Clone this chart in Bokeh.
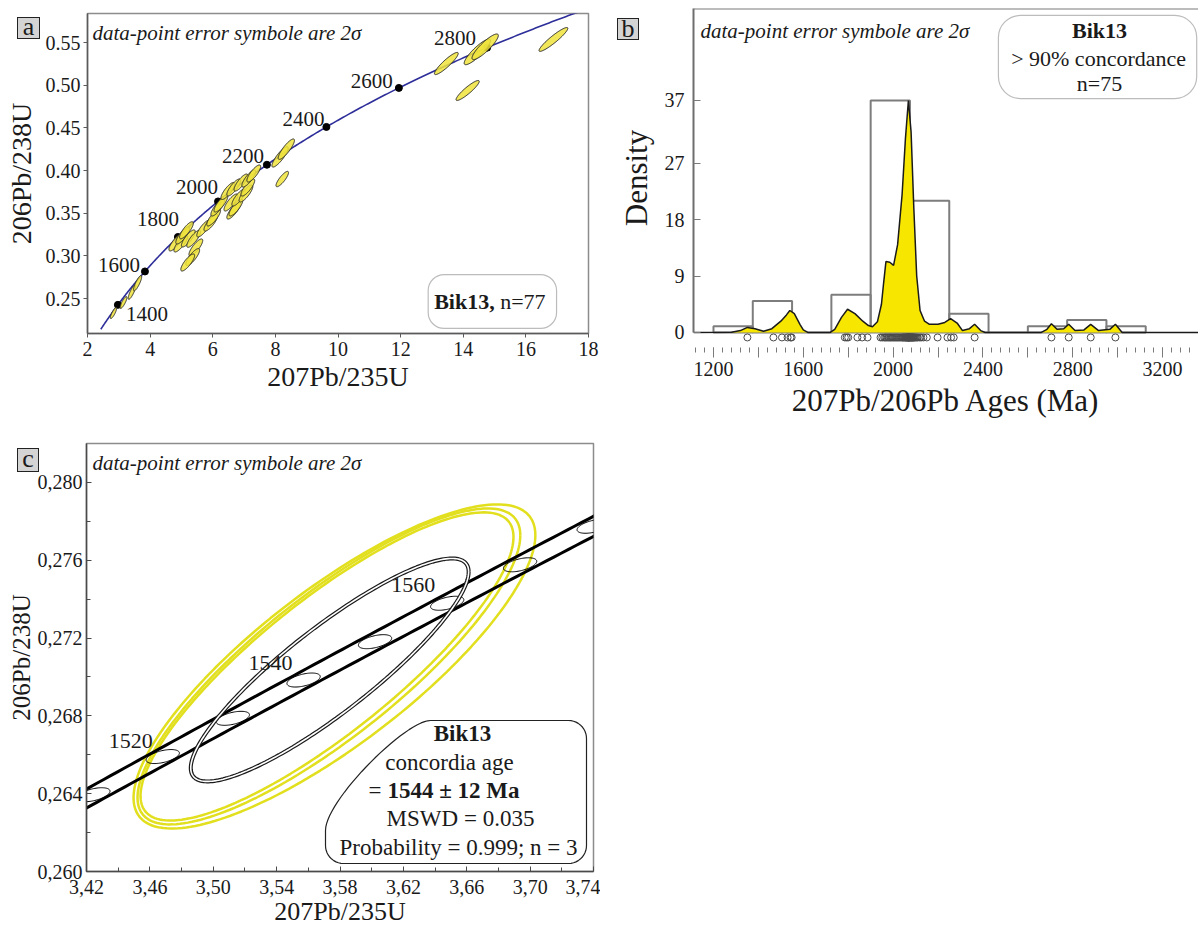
import numpy as np
from bokeh.plotting import figure
from bokeh.layouts import column, row
from bokeh.models import (Range1d, FixedTicker, Label, BoxAnnotation, Span, Div,
                          CustomJSTickFormatter, NumeralTickFormatter)
from bokeh.embed import file_html
from bokeh.resources import INLINE

FONT = "Liberation Serif"
INK = "#1a1a1a"

# decay constants (1/yr) used for the concordia model
LAMBDA_238 = 1.55125e-10
LAMBDA_235 = 9.8485e-10

# ---------------- panel a : U-Pb concordia, all grains ----------------
conc_label_ages = [1400, 1600, 1800, 2000, 2200, 2400, 2600, 2800]
a_x = [2.83, 3.15, 3.42, 3.60, 4.82, 4.98, 5.04, 5.16, 5.22, 5.39, 5.46, 5.36, 5.20,
       5.71, 5.94, 6.03, 6.16, 6.26, 6.58, 6.67, 6.74, 6.83, 7.06, 7.12, 6.48, 6.67,
       6.90, 7.15, 7.31, 8.22, 8.15, 8.35, 13.46, 14.45, 14.70, 14.14, 16.88]
a_y = [0.2330, 0.2453, 0.2575, 0.2680, 0.3157, 0.3145, 0.3239, 0.3300, 0.3204, 0.3200,
       0.3098, 0.2985, 0.2922, 0.3321, 0.3390, 0.3450, 0.3567, 0.3613, 0.3625, 0.3531,
       0.3567, 0.3684, 0.3731, 0.3801, 0.3760, 0.3801, 0.3859, 0.3906, 0.3965, 0.3900,
       0.4160, 0.4250, 0.5254, 0.5390, 0.5450, 0.4938, 0.5536]
a_sx = [0.10, 0.11, 0.12, 0.13] + [0.22] * 25 + [0.20, 0.26, 0.26] + [0.38, 0.42, 0.42, 0.37, 0.46]
a_sy = [0.0065, 0.0070, 0.0085, 0.0090] + [0.0100] * 25 + [0.0090, 0.0120, 0.0120] + \
       [0.0130, 0.0150, 0.0150, 0.0117, 0.0140]
a_rho = [0.84] * 4 + [0.82] * 25 + [0.84, 0.86, 0.86] + [0.91, 0.88, 0.88, 0.91, 0.93]

# ---------------- panel b : age histogram / density ----------------
hist_edges = [1200, 1375, 1550, 1725, 1900, 2075, 2250, 2425, 2600, 2775, 2950, 3125]
hist_counts = [1, 5, 0, 6, 37, 21, 3, 0, 1, 2, 1]
kde_age = [1111, 1280, 1320, 1351, 1385, 1423, 1460, 1500, 1525, 1540, 1560, 1585, 1600,
           1620, 1720, 1740, 1770, 1797, 1830, 1865, 1890, 1908, 1930, 1948, 1958, 1968,
           1985, 2002, 2020, 2040, 2055, 2068, 2080, 2092, 2105, 2120, 2140, 2162, 2200,
           2230, 2256, 2285, 2309, 2340, 2363, 2390, 2410, 2660, 2685, 2705, 2730, 2760,
           2782, 2810, 2850, 2880, 2915, 2965, 2990, 3020, 3360]
kde_dens = [0, 0.05, 0.3, 0.8, 0.6, 0.2, 0.6, 1.8, 2.8, 3.5, 3.0, 1.3, 0.4,
            0.0, 0.0, 0.5, 2.4, 3.7, 3.0, 1.8, 1.1, 0.9, 1.7, 4.5, 8.0, 11.3,
            11.2, 10.7, 14.0, 22.0, 31.0, 37.0, 32.0, 20.0, 9.0, 3.5, 1.8, 1.3, 1.3,
            1.6, 2.2, 1.5, 0.3, 0.6, 1.3, 0.3, 0.0, 0.0, 0.5, 1.4, 0.5, 0.6,
            1.3, 0.3, 0.4, 1.3, 0.3, 0.5, 1.3, 0.0, 0.0]
grain_ages = [1351,
              1467, 1505, 1530, 1543, 1548,
              1785, 1793, 1800, 1841, 1862, 1886,
              1944, 1952, 1960, 1965, 1970, 1976, 1981, 1986, 1990, 1995, 2000, 2005,
              2010, 2015, 2020, 2025, 2030, 2035, 2040, 2043, 2046, 2050, 2053, 2056,
              2058, 2060, 2062, 2064, 2066, 2068, 2069, 2070, 2071, 2072, 2073,
              2076, 2078, 2080, 2082, 2084, 2086, 2088, 2090, 2093, 2096, 2100, 2105,
              2110, 2118, 2125, 2135, 2150, 2198, 2242,
              2258, 2270, 2363,
              2705, 2782, 2880, 2990]
b_yticks = [0, 9, 18, 27, 37]

# ---------------- panel c : concordia age ----------------
c_tick_ages = [1510, 1520, 1530, 1540, 1550, 1560, 1570, 1580]
c_label_ages = [1520, 1540, 1560]
c_x = [3.5765, 3.5730, 3.5718]
c_y = [0.27054, 0.27054, 0.27054]
c_sx = [0.1268, 0.1208, 0.1177]
c_sy = [0.00833, 0.00812, 0.00792]
c_rho = [0.81, 0.83, 0.84]
age_x, age_y, age_sx, age_sy, age_rho = 3.5735, 0.27036, 0.0877, 0.00573, 0.88

# panel tags (label, left px, top px, width px, height px, line-height px)
tags = [("a", 12, 12, 23, 22, 17), ("b", 612, 13, 22, 22, 19), ("c", 12, 443, 22, 24, 19)]


def concordia(ages_ma, l235=LAMBDA_235):
    t = np.asarray(ages_ma, dtype=float) * 1e6
    return np.exp(l235 * t) - 1.0, np.exp(LAMBDA_238 * t) - 1.0


def ellipse_xy(cx, cy, sx, sy, rho, n=90):
    th = np.linspace(0, 2 * np.pi, n)
    x = cx + sx * np.cos(th)
    y = cy + sy * (rho * np.cos(th) + np.sqrt(1 - rho ** 2) * np.sin(th))
    return list(x), list(y)


def base_fig(w, h, xr, yr, ml, mr, mt, mb):
    p = figure(width=w, height=h, x_range=Range1d(*xr), y_range=Range1d(*yr),
               min_border_left=ml, min_border_right=mr, min_border_top=mt,
               min_border_bottom=mb, output_backend="svg", toolbar_location=None,
               background_fill_color="white", border_fill_color="white")
    p.grid.visible = False
    for ax in p.axis:
        ax.major_label_text_font = FONT
        ax.axis_label_text_font = FONT
        ax.axis_label_text_font_style = "normal"
        ax.major_label_text_color = INK
        ax.axis_label_text_color = INK
    return p


def text(p, x, y, s, size, align="left", baseline="middle", style="normal", xo=0, yo=0):
    p.add_layout(Label(x=x, y=y, text=s, x_offset=xo, y_offset=yo, text_font=FONT,
                       text_font_size=f"{size}px", text_font_style=style,
                       text_align=align, text_baseline=baseline, text_color=INK))


# ======================= panel a =======================
pa = base_fig(600, 425, (2, 18), (0.209, 0.584), 87, 12, 13, 92)
pa.outline_line_color = "#8c8c8c"
pa.outline_line_width = 1.5
pa.xaxis.ticker = FixedTicker(ticks=list(range(2, 19, 2)))
pa.yaxis.ticker = FixedTicker(ticks=[0.25, 0.30, 0.35, 0.40, 0.45, 0.50, 0.55])
pa.yaxis.formatter = NumeralTickFormatter(format="0.00")
for ax in pa.axis:
    ax.axis_line_color = "#5a5a5a"
    ax.axis_line_width = 1.5
    ax.major_tick_out = 4
    ax.major_tick_in = 0
    ax.minor_tick_out = 0
    ax.minor_tick_in = 0
    ax.major_tick_line_color = "#5a5a5a"
    ax.major_label_text_font_size = "20px"
    ax.axis_label_text_font_size = "28px"
pa.xaxis.major_label_standoff = 4
pa.xaxis.axis_label_standoff = 2
pa.yaxis.major_label_standoff = 3
pa.yaxis.axis_label_standoff = 6
pa.xaxis.axis_label = "207Pb/235U"
pa.yaxis.axis_label = "206Pb/238U"

cx_line, cy_line = concordia(np.arange(1250, 3005, 5))
pa.line(cx_line, cy_line, line_color="#2e2e9a", line_width=1.6)
dx, dy = concordia(conc_label_ages)
pa.scatter(dx, dy, size=7, marker="circle", color="black")
exs, eys = [], []
for i in range(len(a_x)):
    ex, ey = ellipse_xy(a_x[i], a_y[i], a_sx[i], a_sy[i], a_rho[i])
    exs.append(ex)
    eys.append(ey)
pa.patches(exs, eys, fill_color="#efe33c", fill_alpha=0.85, line_color="#2a2a2a",
           line_width=1)

a_lab_style = {1400: ("left", 8, -9), 1600: ("right", -5, 6), 1800: ("right", 1, 18),
               2000: ("right", 0, 14), 2200: ("right", -3, 9), 2400: ("right", -2, 8),
               2600: ("right", -6, 7), 2800: ("right", -11, 10)}
for age, xx, yy in zip(conc_label_ages, dx, dy):
    al, xo, yo = a_lab_style[age]
    text(pa, xx, yy, str(age), 21, align=al, xo=xo, yo=yo)

text(pa, 2, 0.584, "data-point error symbole are 2σ", 21, baseline="alphabetic",
     style="italic", xo=5, yo=-19)
pa.add_layout(BoxAnnotation(left=12.88, right=16.98, top=0.2781, bottom=0.2149,
                            fill_color="white", fill_alpha=1, line_color="#222222",
                            line_width=1.2, border_radius=16))
text(pa, 13.07, 0.2465, "Bik13,", 22, style="bold")
text(pa, 15.18, 0.2465, "n=77", 22)

# ======================= panel b =======================
pb = base_fig(598, 425, (1111, 3360), (-2.4, 51.67), 93, 0, 8, 78)
pb.outline_line_color = None
pb.xaxis.ticker = FixedTicker(ticks=list(range(1200, 3400, 200)),
                              minor_ticks=list(range(1120, 3360, 40)))
pb.xaxis.major_label_overrides = {1400: "", 1800: "", 2200: "", 2600: "", 3000: ""}
pb.xaxis.axis_line_color = None
pb.xaxis.major_tick_out = 10
pb.xaxis.major_tick_in = 0
pb.xaxis.minor_tick_out = 5
pb.xaxis.minor_tick_in = 0
pb.xaxis.major_tick_line_color = "#7a7a7a"
pb.xaxis.minor_tick_line_color = "#7a7a7a"
pb.xaxis.major_label_standoff = 4
pb.xaxis.axis_label_standoff = 4
pb.yaxis.ticker = FixedTicker(ticks=b_yticks)
pb.yaxis.bounds = (0, 51.67)
pb.yaxis.axis_line_color = "#6e6e6e"
pb.yaxis.axis_line_width = 2
pb.yaxis.major_tick_in = 7
pb.yaxis.major_tick_out = 0
pb.yaxis.minor_tick_in = 0
pb.yaxis.minor_tick_out = 0
pb.yaxis.major_tick_line_color = "#7a7a7a"
pb.yaxis.major_label_standoff = 9
pb.yaxis.axis_label_standoff = 8
for ax in pb.axis:
    ax.major_label_text_font_size = "20px"
    ax.axis_label_text_font_size = "31px"
pb.xaxis.axis_label = "207Pb/206Pb Ages (Ma)"
pb.yaxis.axis_label = "Density"
pb.add_layout(Span(location=51.67, dimension="width", line_color="#7a7a7a", line_width=2))

pb.quad(left=hist_edges[:-1], right=hist_edges[1:], top=hist_counts, bottom=0,
        fill_color=None, line_color="#7d7d7d", line_width=2)
pb.varea(x=kde_age, y1=0, y2=kde_dens, fill_color="#f7e600")
pb.line(kde_age, kde_dens, line_color="#1a1a1a", line_width=1.5)
pb.scatter(grain_ages, [-0.8] * len(grain_ages), marker="circle", size=7,
           fill_color=None, line_color="#4a4a4a", line_width=1)

text(pb, 1111, 51.67, "data-point error symbole are 2σ", 21, baseline="alphabetic",
     style="italic", xo=7, yo=-22)
pb.add_layout(BoxAnnotation(left=2469, right=3352, top=50.56, bottom=37.3,
                            fill_color="white", fill_alpha=1, line_color="#222222",
                            line_width=1.2, border_radius=22))
text(pb, 2919, 48.2, "Bik13", 22, align="center", style="bold")
text(pb, 2915, 43.7, "> 90% concordance", 22, align="center")
text(pb, 2919, 39.7, "n=75", 22, align="center")

# ======================= panel c =======================
C_X0, C_X1, C_Y0, C_Y1 = 3.42, 3.74, 0.260, 0.282
C_LEFT, C_TOP, C_W, C_H = 86, 443, 507, 428
pc = base_fig(600, 510, (C_X0, C_X1), (C_Y0, C_Y1), 86, 7, 18, 64)
pc.outline_line_color = "#8c8c8c"
pc.outline_line_width = 1.5
xt = [3.42, 3.46, 3.50, 3.54, 3.58, 3.62, 3.66, 3.70, 3.74]
yt = [0.260, 0.264, 0.268, 0.272, 0.276, 0.280]
pc.xaxis.ticker = FixedTicker(ticks=xt, minor_ticks=[3.44, 3.48, 3.52, 3.56, 3.60, 3.64, 3.68, 3.72])
pc.yaxis.ticker = FixedTicker(ticks=yt, minor_ticks=[0.262, 0.266, 0.270, 0.274, 0.278])
pc.xaxis.formatter = CustomJSTickFormatter(code="return tick.toFixed(2).replace('.', ',');")
pc.yaxis.formatter = CustomJSTickFormatter(code="return tick.toFixed(3).replace('.', ',');")
for ax in pc.axis:
    ax.axis_line_color = "#4a4a4a"
    ax.axis_line_width = 1.5
    ax.major_tick_in = 5
    ax.major_tick_out = 0
    ax.minor_tick_in = 4
    ax.minor_tick_out = 0
    ax.major_tick_line_color = "#4a4a4a"
    ax.minor_tick_line_color = "#4a4a4a"
    ax.major_label_text_font_size = "20px"
pc.xaxis.axis_label_text_font_size = "26px"
pc.yaxis.axis_label_text_font_size = "25px"
pc.xaxis.major_label_standoff = 8
pc.xaxis.axis_label_standoff = 0
pc.yaxis.major_label_standoff = 4
pc.yaxis.axis_label_standoff = 0
pc.xaxis.axis_label = "207Pb/235U"
pc.yaxis.axis_label = "206Pb/238U"


def cpx(px):  # screen px -> panel c data x (annotation placement only)
    return C_X0 + (px - C_LEFT) * (C_X1 - C_X0) / C_W


def cpy(py):
    return C_Y1 - (py - C_TOP) * (C_Y1 - C_Y0) / C_H


def bezier(p0, p1, p2, p3, n=30):
    t = np.linspace(0, 1, n)[:, None]
    pts = ((1 - t) ** 3) * np.array(p0) + 3 * ((1 - t) ** 2) * t * np.array(p1) + \
        3 * (1 - t) * t ** 2 * np.array(p2) + t ** 3 * np.array(p3)
    return [tuple(q) for q in pts]


def corner(cxp, cyp, r, a0, a1, n=12):
    a = np.linspace(a0, a1, n)
    return [(cxp + r * np.cos(t), cyp + r * np.sin(t)) for t in a]


# result box with a bevelled top-left corner (in screen px, converted to data)
bl, br, bt, bb, rr = 325, 586, 720, 863, 18
outline = bezier((430, bt), (405, bt), (325, 800), (bl, 830))
outline += corner(bl + rr, bb - rr, rr, np.pi, np.pi / 2)
outline += corner(br - rr, bb - rr, rr, np.pi / 2, 0)
outline += corner(br - rr, bt + rr, rr, 0, -np.pi / 2)
pc.patch([cpx(q[0]) for q in outline], [cpy(q[1]) for q in outline],
         fill_color="white", line_color="#222222", line_width=1.2)

yxs, yys = [], []
for i in range(len(c_x)):
    ex, ey = ellipse_xy(c_x[i], c_y[i], c_sx[i], c_sy[i], c_rho[i], n=200)
    yxs.append(ex)
    yys.append(ey)
pc.multi_line(yxs, yys, line_color="#e2df1e", line_width=2.5)

band_ages = np.arange(1490, 1600, 1)
ux, uy = concordia(band_ages, LAMBDA_235 * (1 - 0.00165))
lx, ly = concordia(band_ages, LAMBDA_235 * (1 + 0.00165))
pc.line(ux, uy, line_color="black", line_width=3)
pc.line(lx, ly, line_color="black", line_width=3)

tx, ty = concordia(c_tick_ages)
txs, tys = [], []
for xx, yy in zip(tx, ty):
    ex, ey = ellipse_xy(xx, yy, 0.0105, 0.00036, 0.5)
    txs.append(ex)
    tys.append(ey)
pc.multi_line(txs, tys, line_color="black", line_width=1)

ax_, ay_ = ellipse_xy(age_x, age_y, age_sx, age_sy, age_rho, n=240)
pc.line(ax_, ay_, line_color="#1a1a1a", line_width=4)
pc.line(ax_, ay_, line_color="white", line_width=1.6)

lxp, lyp = concordia(c_label_ages)
c_lab_off = {1520: (-10, 16), 1540: (-11, 17), 1560: (-12, 18)}
for age, xx, yy in zip(c_label_ages, lxp, lyp):
    xo, yo = c_lab_off[age]
    text(pc, xx, yy, str(age), 22, align="right", xo=xo, yo=yo)

text(pc, 3.42, 0.282, "data-point error symbole are 2σ", 21, baseline="alphabetic",
     style="italic", xo=6, yo=-19)
text(pc, cpx(462), cpy(733), "Bik13", 23, align="center", style="bold")
text(pc, cpx(449), cpy(762), "concordia age", 23, align="center")
text(pc, cpx(381), cpy(790), "=", 23, align="right")
text(pc, cpx(387), cpy(790), "1544 ± 12 Ma", 23, style="bold")
text(pc, cpx(460), cpy(818), "MSWD = 0.035", 23, align="center")
text(pc, cpx(458), cpy(847), "Probability = 0.999; n = 3", 23, align="center")

# ---- panel tags (outside the plot frames) ----
tag_html = "".join(
    f'<div style="position:absolute;left:{x}px;top:{y}px;width:{w}px;height:{h}px;'
    f'box-sizing:border-box;background:#d4d4d4;border:1px solid #222;'
    f"font-family:'Liberation Serif',serif;font-size:26px;line-height:{lh}px;"
    f'text-align:center;color:#1a1a1a;overflow:visible;">{t}</div>'
    for t, x, y, w, h, lh in tags)
tag_div = Div(text=tag_html, width=0, height=0,
              styles={"position": "absolute", "left": "0px", "top": "0px",
                      "overflow": "visible", "z-index": "5"})

layout = column(tag_div, row(column(pa), column(pb)), column(pc))
open("out.html", "w").write(file_html(layout, INLINE))
